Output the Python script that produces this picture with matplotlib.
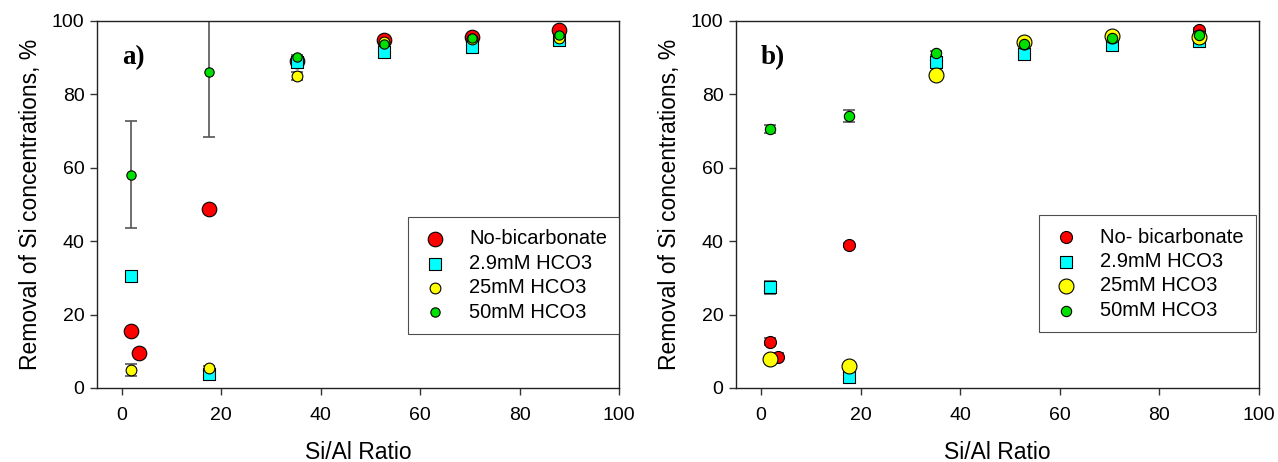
import matplotlib
matplotlib.use("Agg")
import matplotlib.pyplot as plt

plt.rcParams['font.family'] = ['Liberation Sans', 'DejaVu Sans']

# Si/Al ratios
ratio = [1.76, 17.6, 35.2, 52.8, 70.4, 88.0]
ratio_nb = [1.76, 3.5, 17.6, 35.2, 52.8, 70.4, 88.0]

# panel a)
a_nobic = [15.5, 9.4, 48.7, 89.0, 94.8, 95.7, 97.6]
a_hco3_29 = [30.4, 3.8, 88.8, 91.5, 92.8, 94.8]
a_hco3_25 = [4.9, 5.4, 85.0, 94.2, 95.2, 95.3]
a_hco3_25_err = [1.7, 0.5, 1.0, 0.5, 0.5, 0.5]
a_hco3_50 = [58.1, 86.2, 90.1, 93.6, 95.4, 96.2]
a_hco3_50_err = [14.6, 17.7, 0.5, 0.5, 0.5, 0.5]

# panel b)
b_nobic = [12.6, 8.5, 39.0, 89.5, 94.4, 95.6, 97.5]
b_nobic_err = [1.0, 1.0, 0.5, 0.5, 0.5, 0.5, 0.5]
b_hco3_29 = [27.4, 3.1, 88.7, 91.0, 93.4, 94.6]
b_hco3_29_err = [1.7, 0.5, 0.5, 0.5, 0.5, 0.5]
b_hco3_25 = [7.8, 6.0, 85.2, 94.4, 96.0, 95.7]
b_hco3_50 = [70.6, 74.1, 91.2, 93.7, 95.4, 96.1]
b_hco3_50_err = [1.0, 1.6, 0.5, 0.5, 0.5, 0.5]

labels_a = ['No-bicarbonate', '2.9mM HCO3', '25mM HCO3', '50mM HCO3']
labels_b = ['No- bicarbonate', '2.9mM HCO3', '25mM HCO3', '50mM HCO3']

red, cyan, yellow, green = '#ff0000', '#00ffff', '#ffff00', '#00e000'
ecol = '#555555'

fig = plt.figure(figsize=(12.78, 4.62), dpi=100)
ax1 = fig.add_axes([0.0759, 0.1602, 0.4085, 0.7944])
ax2 = fig.add_axes([0.5759, 0.1602, 0.4092, 0.7944])


def draw(ax, series, labels, tag, legend_anchor):
    handles = []
    for (x, y, err, marker, color, size), lab in zip(series, labels):
        if err is not None:
            ax.errorbar(x, y, yerr=err, fmt='none', ecolor=ecol, elinewidth=1.2,
                        capsize=4.5, capthick=1.2, zorder=2)
        h = ax.scatter(x, y, s=size, marker=marker, c=color, edgecolors='black',
                       linewidths=0.8, zorder=3, label=lab, clip_on=False)
        handles.append(h)
    ax.set_xlim(-5, 100)
    ax.set_ylim(0, 100)
    ax.set_xticks(range(0, 101, 20))
    ax.set_yticks(range(0, 101, 20))
    ax.tick_params(direction='out', length=5, width=1, color='#333333',
                   labelsize=14, pad=4)
    ax.tick_params(axis='x', pad=9)
    for sp in ax.spines.values():
        sp.set_color('#222222')
        sp.set_linewidth(1)
    ax.set_xlabel('Si/Al Ratio', fontsize=16.5, labelpad=12)
    ax.set_ylabel('Removal of Si concentrations, %', fontsize=16.5, labelpad=7)
    ax.text(0, 90, tag, fontsize=19.5, fontweight='bold', family='Liberation Serif',
            va='center', ha='left')
    leg = ax.legend(handles=handles, loc='upper right', bbox_to_anchor=legend_anchor,
                    fontsize=14.5, frameon=True, fancybox=False, edgecolor='#222222',
                    borderpad=0.6, labelspacing=0.27, handlelength=1.5,
                    handletextpad=0.95, borderaxespad=0, markerscale=1.0)
    leg.get_frame().set_linewidth(0.8)


series_a = [
    (ratio_nb, a_nobic, None, 'o', red, 110),
    (ratio, a_hco3_29, None, 's', cyan, 85),
    (ratio, a_hco3_25, a_hco3_25_err, 'o', yellow, 60),
    (ratio, a_hco3_50, a_hco3_50_err, 'o', green, 45),
]
series_b = [
    (ratio_nb, b_nobic, b_nobic_err, 'o', red, 75),
    (ratio, b_hco3_29, b_hco3_29_err, 's', cyan, 70),
    (ratio, b_hco3_25, None, 'o', yellow, 115),
    (ratio, b_hco3_50, b_hco3_50_err, 'o', green, 55),
]

draw(ax1, series_a, labels_a, 'a)', (1.0, 0.465))
draw(ax2, series_b, labels_b, 'b)', (0.994, 0.47))

fig.savefig('out.png', dpi=100)
